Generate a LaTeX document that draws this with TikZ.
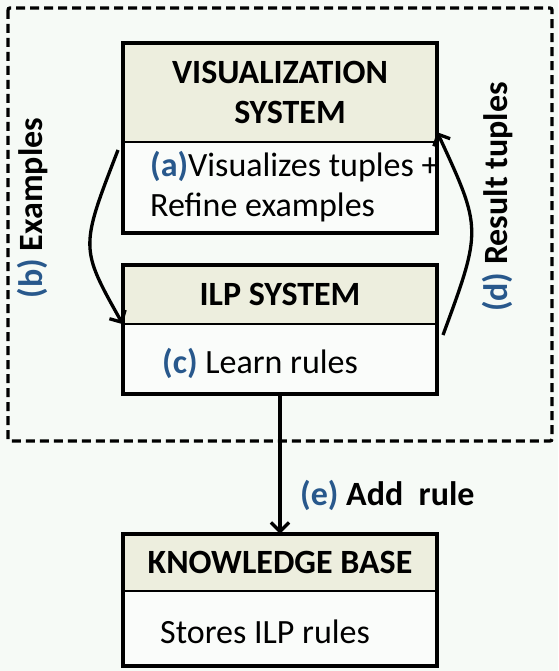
\documentclass[tikz,border=0pt]{standalone}
\usepackage{fontspec}
\setmainfont{Carlito}
\usetikzlibrary{arrows.meta,positioning}
\definecolor{kopffarbe}{RGB}{237,238,222}
\definecolor{hinterfarbe}{RGB}{246,250,246}
\definecolor{rumpffarbe}{RGB}{250,252,250}
\definecolor{blau}{RGB}{40,88,140}
\tikzset{
    kopf/.style={fill=kopffarbe, inner sep=0pt, minimum width=314pt, align=center, font=\bfseries},
    rumpf/.style={fill=rumpffarbe, inner sep=0pt, minimum width=314pt},
    rahmen/.style={line width=3.8pt},
    trenner/.style={line width=1.5pt},
    pfeil/.style={line width=3.3pt, -{Straight Barb[length=9pt,width=18pt]}}
}
\begin{document}
\fontsize{34}{40}\selectfont
\begin{tikzpicture}[x=1pt,y=-1pt]
    % Hintergrund, legt gleichzeitig die Bildgröße fest:
    \fill[hinterfarbe] (0,0) rectangle (558,671);
    % Der gestrichelte Rahmen um die beiden oberen Systeme:
    \draw[line width=3.3pt, dash pattern=on 9pt off 5pt, rounded corners=2pt] (8,8) rectangle (552,441);
    % Die drei Kästen, jeweils Kopf und Rumpf:
    \node[kopf, minimum height=99pt] (vishead) at (280,92.5) {VISUALIZATION\\\hspace*{20pt}SYSTEM};
    \node[rumpf, minimum height=90pt, below=0pt of vishead] (visbody) {};
    \node[kopf, minimum height=59pt] (ilphead) at (280,294.5) {ILP SYSTEM};
    \node[rumpf, minimum height=69pt, below=0pt of ilphead] (ilpbody) {};
    \node[kopf, minimum height=57pt] (kbhead) at (280,562.5) {KNOWLEDGE BASE};
    \node[rumpf, minimum height=74pt, below=0pt of kbhead] (kbbody) {};
    % Texte in den Rümpfen:
    \node[anchor=west, align=left, inner sep=0pt] (vistext) at (150,187)
        {\textcolor{blau}{\textbf{(a)}}Visualizes tuples +\\Refine examples};
    \node[anchor=west, inner sep=0pt] (ilptext) at (162,363) {\textcolor{blau}{\textbf{(c)}} Learn rules};
    \node[anchor=west, inner sep=0pt] (kbtext) at (160,632) {Stores ILP rules};
    % Dicker Rahmen und dünne Trennlinie, für alle drei Kästen gleich:
    \foreach \k in {vis,ilp,kb} {
        \draw[rahmen] (\k head.north west) rectangle (\k body.south east);
        \draw[trenner] (\k head.south west) -- (\k head.south east);
    }
    % Beschriftungen der Pfeile:
    \node[rotate=90, font=\bfseries] (bschild) at (33,208) {\textcolor{blau}{(b)} Examples};
    \node[rotate=90, font=\bfseries] (dschild) at (498,197) {\textcolor{blau}{(d)} Result tuples};
    \node[anchor=west, font=\bfseries, inner sep=0pt] (eschild) at (300,495) {\textcolor{blau}{(e)} Add\ \ rule};
    % Die beiden gebogenen Pfeile und der gerade nach unten:
    \coordinate (bstart) at (118,150);
    \coordinate (dstart) at (443,335);
    \draw[pfeil] (bstart) .. controls (80,248) .. (ilpbody.north west);
    \draw[pfeil] (dstart) .. controls (482,229) .. ([yshift=10pt]vishead.south east);
    \draw[pfeil] (ilpbody.south) -- (kbhead.north);
\end{tikzpicture}
\end{document}
